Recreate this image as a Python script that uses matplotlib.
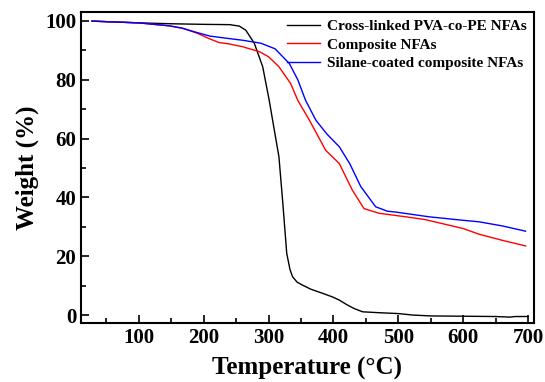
import matplotlib
matplotlib.use("Agg")
import matplotlib.pyplot as plt
from matplotlib.ticker import MultipleLocator

# TGA curves
temp_black = [28, 100, 150, 200, 240, 255, 265, 278, 291, 301, 308, 316, 322, 328, 333, 337, 344, 352, 365, 383, 398, 409, 420, 432, 445, 470, 500, 522, 550, 600, 650, 672, 680, 700]
wt_black = [99.9, 99.3, 99.0, 98.8, 98.7, 98.2, 96.8, 92.4, 84.4, 73.0, 64.0, 53.8, 38.0, 21.0, 15.5, 13.0, 11.2, 10.2, 8.8, 7.4, 6.2, 5.1, 3.6, 2.2, 1.1, 0.8, 0.5, 0.0, -0.3, -0.4, -0.5, -0.7, -0.5, -0.5]

temp_red = [28, 100, 147, 167, 190, 210, 224, 238, 260, 286, 300, 316, 334, 345, 363, 388, 409, 429, 447, 470, 511, 540, 573, 600, 624, 660, 696]
wt_red = [99.9, 99.3, 98.3, 97.5, 95.8, 93.8, 92.6, 92.2, 91.2, 89.5, 87.8, 84.4, 78.7, 73.0, 66.2, 56.0, 51.5, 42.5, 36.2, 34.6, 33.4, 32.5, 30.8, 29.4, 27.5, 25.4, 23.5]

temp_blue = [28, 100, 147, 167, 190, 210, 238, 260, 288, 310, 332, 345, 357, 373, 390, 409, 425, 442, 465, 483, 496, 547, 600, 624, 660, 696]
wt_blue = [99.9, 99.3, 98.3, 97.5, 96.0, 94.8, 94.0, 93.4, 92.4, 90.5, 85.5, 80.0, 73.0, 66.2, 61.5, 57.2, 51.5, 43.7, 36.8, 35.3, 35.0, 33.4, 32.2, 31.7, 30.3, 28.5]

plt.rcParams['font.family'] = ['Liberation Serif', 'DejaVu Serif']
plt.rcParams['font.weight'] = 'bold'

fig = plt.figure(figsize=(5.45, 3.82), dpi=100)
ax = fig.add_axes([0.1486, 0.1537, 0.8312, 0.8149])

ax.plot(temp_black, wt_black, color='black', lw=1.0, label='Cross-linked PVA-co-PE NFAs')
ax.plot(temp_red, wt_red, color='red', lw=1.0, label='Composite NFAs')
ax.plot(temp_blue, wt_blue, color='blue', lw=1.0, label='Silane-coated composite NFAs')

ax.set_xlim(11, 709)
ax.set_ylim(-2.8, 103)
ax.xaxis.set_minor_locator(MultipleLocator(50))
ax.yaxis.set_major_locator(MultipleLocator(20))
ax.yaxis.set_minor_locator(MultipleLocator(10))
ax.set_xticks([100, 200, 300, 400, 500, 600, 700])
ax.tick_params(which='both', direction='in', top=False, right=False, width=1.2)
ax.tick_params(which='major', length=6, labelsize=15)
ax.tick_params(which='minor', length=3.5)
for lbl in ax.get_xticklabels() + ax.get_yticklabels():
    lbl.set_fontweight('bold')
for s in ax.spines.values():
    s.set_linewidth(1.5)

ax.set_xlabel('Temperature (°C)', fontsize=18, fontweight='bold', labelpad=6)
ax.set_ylabel('Weight (%)', fontsize=18, fontweight='bold', labelpad=4)

ax.legend(loc='upper right', frameon=False, prop={'weight': 'bold', 'size': 11},
          handlelength=2.2, handletextpad=0.4, labelspacing=0.3,
          borderaxespad=0.1)

fig.savefig('out.png', dpi=100)
